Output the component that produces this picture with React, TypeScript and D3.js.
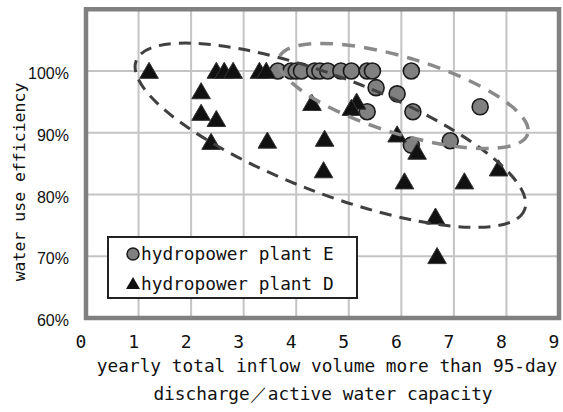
import * as d3 from "d3";

// hydropower plant E (circles): [ratio, efficiency %]
const plantE: Array<[number, number]> = [
  [3.65, 100], [3.9, 100], [4.0, 100], [4.1, 100], [4.35, 100], [4.45, 100],
  [4.6, 100], [4.85, 100], [5.05, 100], [5.35, 100], [5.45, 100], [6.19, 100],
  [5.52, 97.3], [5.92, 96.3], [5.35, 93.4], [6.22, 93.4], [7.5, 94.2],
  [6.93, 88.7], [6.19, 88.0],
];

// hydropower plant D (triangles)
const plantD: Array<[number, number]> = [
  [1.2, 100], [2.48, 100], [2.63, 100], [2.8, 100], [3.3, 100], [3.43, 100],
  [2.19, 96.7], [2.19, 93.2], [2.48, 92.2], [2.38, 88.5], [3.45, 88.7],
  [4.3, 94.8], [5.15, 95.0], [5.05, 94.0], [4.54, 89.0], [4.52, 83.9],
  [5.92, 89.7], [6.3, 86.9], [6.06, 82.1], [7.2, 82.1], [7.85, 84.2],
  [6.65, 76.4], [6.68, 70.0],
];

const xTicks = [0, 1, 2, 3, 4, 5, 6, 7, 8, 9];
const yTicks = [60, 70, 80, 90, 100];
const legendLabels = ["hydropower plant E", "hydropower plant D"];
const xTitle = ["yearly total inflow volume more than 95-day", "discharge／active water capacity"];
const yTitle = "water use efficiency";

// dashed grouping ellipses: centre in data units
const groupD = { cx: 4.65, cy: 89.6 };
const groupE = { cx: 6.04, cy: 95.95 };

const W = 563;
const H = 412;
const mono = "'DejaVu Sans Mono', monospace";

export default function App() {
  const x = d3.scaleLinear([0, 9], [86, 559]);
  const y = d3.scaleLinear([60, 110], [318, 9.25]);
  const tri = d3.symbol(d3.symbolTriangle, 150)();
  const triSmall = d3.symbol(d3.symbolTriangle, 85)();

  return (
    <svg width={W} height={H} style={{ position: "absolute", left: 0, top: 0, background: "#fff" }}>
      <rect x={0} y={0} width={W} height={H} fill="#fff" />
      {/* grid */}
      <g stroke="#c4c4c4" strokeWidth={2}>
        {xTicks.slice(1, -1).map((t) => (
          <line key={t} x1={x(t)} x2={x(t)} y1={y(110)} y2={y(60)} />
        ))}
        {yTicks.slice(1).map((t) => (
          <line key={t} x1={x(0)} x2={x(9)} y1={y(t)} y2={y(t)} />
        ))}
      </g>
      <rect x={x(0)} y={y(110)} width={x(9) - x(0)} height={y(60) - y(110)}
        fill="none" stroke="#808080" strokeWidth={4.5} />

      {/* y ticks */}
      <g fontFamily="'Liberation Sans', Arial, sans-serif" fontSize={16} fill="#111" textAnchor="end">
        {yTicks.map((t) => (
          <text key={t} x={69} y={y(t) + 8}>{t}%</text>
        ))}
      </g>
      {/* x ticks */}
      <g fontFamily={mono} fontSize={18} fill="#111" textAnchor="middle">
        {xTicks.map((t) => (
          <text key={t} x={x(t) - 5} y={348}>{t}</text>
        ))}
      </g>
      <g fontFamily={mono} fontSize={17.8} fill="#111" textAnchor="middle">
        <text x={327} y={372}>{xTitle[0]}</text>
        <text x={323} y={400}>{xTitle[1]}</text>
        <text transform={`translate(25,182) rotate(-90)`} fontSize={16.5}>{yTitle}</text>
      </g>

      {/* points */}
      <g fill="#808080" stroke="#1a1a1a" strokeWidth={1.6}>
        {plantE.map(([a, b], i) => (
          <circle key={i} cx={x(a)} cy={y(b)} r={8} />
        ))}
      </g>
      <g fill="#111" stroke="#333" strokeWidth={1}>
        {plantD.map(([a, b], i) => (
          <path key={i} d={tri!} transform={`translate(${x(a)},${y(b) + 2})`} />
        ))}
      </g>

      {/* grouping ellipses */}
      <ellipse cx={x(groupD.cx)} cy={y(groupD.cy)} rx={208} ry={58}
        transform={`rotate(21 ${x(groupD.cx)} ${y(groupD.cy)})`}
        fill="none" stroke="#404040" strokeWidth={3} strokeDasharray="12 8" />
      <ellipse cx={x(groupE.cx)} cy={y(groupE.cy)} rx={130} ry={38}
        transform={`rotate(17 ${x(groupE.cx)} ${y(groupE.cy)})`}
        fill="none" stroke="#8a8a8a" strokeWidth={3.5} strokeDasharray="13 9" />

      {/* legend */}
      <rect x={108} y={237} width={249} height={61} fill="#fff" stroke="#222" strokeWidth={2} />
      <circle cx={133} cy={254} r={6} fill="#808080" stroke="#1a1a1a" strokeWidth={1.5} />
      <path d={triSmall!} transform="translate(133,285)" fill="#111" />
      <g fontFamily={mono} fontSize={17.8} fill="#111">
        <text x={141} y={260}>{legendLabels[0]}</text>
        <text x={141} y={290}>{legendLabels[1]}</text>
      </g>
    </svg>
  );
}
